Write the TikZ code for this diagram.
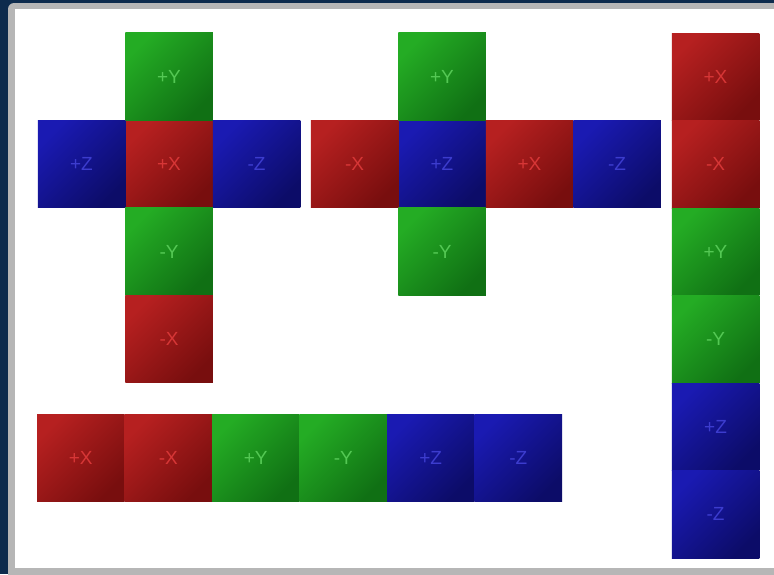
\documentclass[tikz,border=0pt]{standalone}
\usepackage{fontspec}
\setmainfont{Liberation Sans}
\usetikzlibrary{positioning,shadings}
\definecolor{myNavy}{RGB}{13,43,77}
\definecolor{myFrame}{RGB}{182,182,182}
\definecolor{myRed}{RGB}{182,32,32}
\definecolor{myRedDark}{RGB}{120,14,14}
\definecolor{myRedText}{RGB}{214,54,54}
\definecolor{myGreen}{RGB}{36,172,36}
\definecolor{myGreenDark}{RGB}{16,112,20}
\definecolor{myGreenText}{RGB}{84,200,84}
\definecolor{myBlue}{RGB}{26,26,178}
\definecolor{myBlueDark}{RGB}{12,12,104}
\definecolor{myBlueText}{RGB}{60,60,206}
\tikzset{
  face/.style={minimum size=87.5pt, inner sep=0pt, outer sep=0pt,
    font=\fontsize{19}{19}\selectfont},
  xface/.style={face, top color=myRed, bottom color=myRedDark,
    shading angle=45, text=myRedText},
  yface/.style={face, top color=myGreen, bottom color=myGreenDark,
    shading angle=45, text=myGreenText},
  zface/.style={face, top color=myBlue, bottom color=myBlueDark,
    shading angle=45, text=myBlueText}
}

\begin{document}
\begin{tikzpicture}[x=1pt,y=-1pt,node distance=0pt]
  \useasboundingbox (0,0) rectangle (774,574);
  % frame
  \clip (0,0) rectangle (774,574);
  \fill[myNavy] (0,0) rectangle (774,574);
  \fill[myFrame,rounded corners=6pt] (8,3) rectangle (800,590);
  \fill[white] (15,9) rectangle (800,568);
  % first cross
  \node[xface] (a-px) at (169,164) {+X};
  \node[yface,above=of a-px] (a-py) {+Y};
  \node[zface,left=of a-px] (a-pz) {+Z};
  \node[zface,right=of a-px] (a-nz) {-Z};
  \node[yface,below=of a-px] (a-ny) {-Y};
  \node[xface,below=of a-ny] (a-nx) {-X};
  % second cross
  \node[zface] (b-pz) at (442,164) {+Z};
  \node[yface,above=of b-pz] (b-py) {+Y};
  \node[yface,below=of b-pz] (b-ny) {-Y};
  \node[xface,left=of b-pz] (b-nx) {-X};
  \node[xface,right=of b-pz] (b-px) {+X};
  \node[zface,right=of b-px] (b-nz) {-Z};
  % column
  \node[xface] (c-px) at (715.5,76.75) {+X};
  \node[xface,below=of c-px] (c-nx) {-X};
  \node[yface,below=of c-nx] (c-py) {+Y};
  \node[yface,below=of c-py] (c-ny) {-Y};
  \node[zface,below=of c-ny] (c-pz) {+Z};
  \node[zface,below=of c-pz] (c-nz) {-Z};
  % row
  \node[xface] (d-px) at (80.75,457.75) {+X};
  \node[xface,right=of d-px] (d-nx) {-X};
  \node[yface,right=of d-nx] (d-py) {+Y};
  \node[yface,right=of d-py] (d-ny) {-Y};
  \node[zface,right=of d-ny] (d-pz) {+Z};
  \node[zface,right=of d-pz] (d-nz) {-Z};
\end{tikzpicture}
\end{document}
